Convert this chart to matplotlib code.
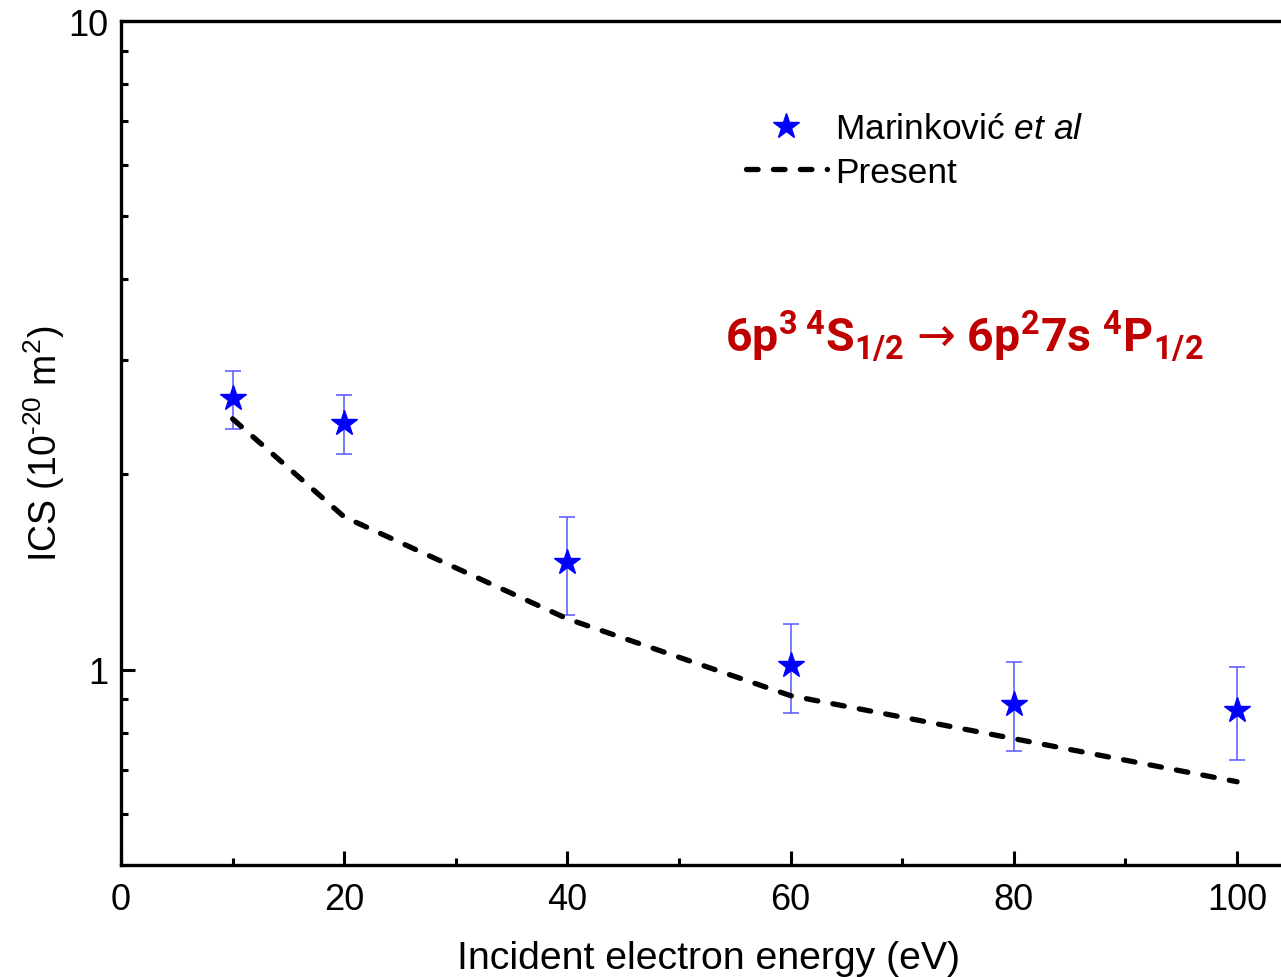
import matplotlib
matplotlib.use("Agg")
import matplotlib.pyplot as plt
from matplotlib.ticker import LogLocator, NullFormatter, FixedLocator

plt.rcParams['font.family'] = ['Liberation Sans', 'DejaVu Sans']
plt.rcParams['mathtext.fontset'] = 'custom'
plt.rcParams['mathtext.rm'] = 'Liberation Sans'
plt.rcParams['mathtext.it'] = 'Liberation Sans:italic'
plt.rcParams['mathtext.bf'] = 'Roboto:bold'
plt.rcParams['mathtext.sf'] = 'DejaVu Sans'
plt.rcParams['mathtext.fallback'] = 'stixsans'

# Data
exp_energy = [10, 20, 40, 60, 80, 100]
exp_ics = [2.62, 2.40, 1.467, 1.018, 0.886, 0.868]
exp_upper = [2.89, 2.65, 1.72, 1.177, 1.029, 1.011]
exp_lower = [2.35, 2.15, 1.215, 0.858, 0.750, 0.727]

present_energy = [10, 20, 40, 60, 80, 100]
present_ics = [2.436, 1.72, 1.198, 0.912, 0.783, 0.672]

x_ticks = [0, 20, 40, 60, 80, 100]

fig = plt.figure(figsize=(12.81, 9.78), dpi=100)
# axes extends slightly past the right edge of the figure (clipped, as in the reference)
ax = fig.add_axes([0.0945, 0.1145, 0.9165, 0.863])

yerr = [[v - lo for v, lo in zip(exp_ics, exp_lower)],
        [hi - v for v, hi in zip(exp_ics, exp_upper)]]
ax.errorbar(exp_energy, exp_ics, yerr=yerr, fmt='none', ecolor=(0.35, 0.35, 1.0, 0.8),
            elinewidth=1.4, capsize=6, capthick=1.4, zorder=2)
ax.plot(exp_energy, exp_ics, linestyle='none', marker='*', color='#0000ff', ms=19,
        label=r'Marinković $\it{et\ al}$', zorder=3)
ax.plot(present_energy, present_ics, color='black', lw=3.8,
        linestyle=(0, (2.2, 2.9)), dash_capstyle='round', label='Present', zorder=2)

ax.set_yscale('log')
ax.set_ylim(0.5, 10)
ax.set_xlim(0, 105.2)

ax.xaxis.set_major_locator(FixedLocator(x_ticks))
ax.xaxis.set_minor_locator(FixedLocator([10, 30, 50, 70, 90]))
ax.yaxis.set_major_locator(FixedLocator([1, 10]))
ax.yaxis.set_major_formatter(matplotlib.ticker.FuncFormatter(lambda v, p: f"{v:g}"))
ax.yaxis.set_minor_locator(LogLocator(base=10, subs=range(2, 10)))
ax.yaxis.set_minor_formatter(NullFormatter())

ax.tick_params(which='both', direction='in', top=False, right=False, labelsize=26, width=2.2)
ax.tick_params(which='major', length=10)
ax.tick_params(which='minor', length=5)
ax.tick_params(axis='x', pad=12)
ax.tick_params(axis='y', pad=9)

for s in ['left', 'bottom', 'top']:
    ax.spines[s].set_linewidth(2.4)
ax.spines['right'].set_visible(False)

ax.set_xlabel('Incident electron energy (eV)', fontsize=28.3, labelpad=17)
ax.set_ylabel(r'ICS (10$^{\text{-20}}$ m$^{2}$)', fontsize=27, labelpad=1)

leg = ax.legend(loc='upper left', bbox_to_anchor=(0.52, 0.909), frameon=False, fontsize=25.5,
                handlelength=2.3, handletextpad=0.22, labelspacing=0.3, borderaxespad=0)

ax.text(0.5145, 0.609,
        r'6p$^{\mathbf{3}}\,^{\mathbf{4}}$S$_{\mathbf{1/2}}$ $\mathsf{→}$ 6p$^{\mathbf{2}}$7s $^{\mathbf{4}}$P$_{\mathbf{1/2}}$',
        transform=ax.transAxes, fontsize=33.5, fontweight='bold', color='#c00000',
        family=['Roboto', 'DejaVu Sans'], ha='left', va='baseline')

fig.savefig('out.png', dpi=100)
